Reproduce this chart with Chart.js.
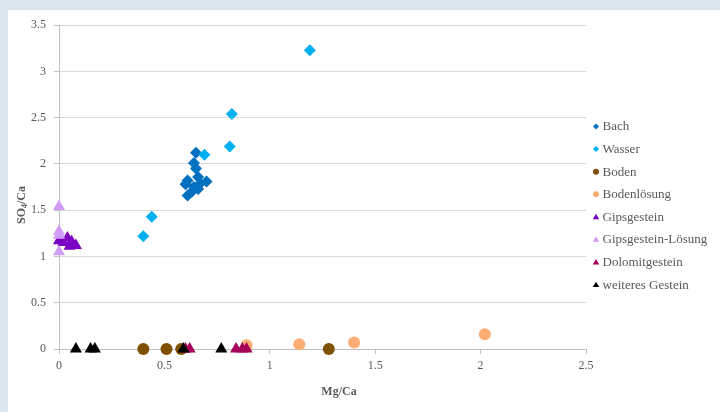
<!DOCTYPE html>
<html>
<head>
<meta charset="utf-8">
<script src="https://cdn.jsdelivr.net/npm/chart.js@4.4.1/dist/chart.umd.min.js"></script>
<style>
  html, body { margin: 0; padding: 0; width: 720px; height: 412px; overflow: hidden; background: #dde7f0; }
  #panel { position: absolute; left: 8px; top: 10px; width: 712px; height: 402px; background: #ffffff; }
  canvas { display: block; }
</style>
</head>
<body>
<div id="panel"><canvas id="chart" width="712" height="402"></canvas></div>
<script>
// Sample groups (legend order)
const seriesNames = ['Bach', 'Wasser', 'Boden', 'Bodenlösung', 'Gipsgestein',
                     'Gipsgestein-Lösung', 'Dolomitgestein', 'weiteres Gestein'];

// Mg/Ca (x) and SO4/Ca (y) per group
const bachMg   = [0.65, 0.64, 0.65, 0.66, 0.61, 0.60, 0.70, 0.67, 0.64, 0.66, 0.63, 0.61];
const bachSo4  = [2.12, 2.01, 1.95, 1.86, 1.82, 1.78, 1.81, 1.79, 1.75, 1.73, 1.70, 1.66];
const wasserMg  = [1.19, 0.82, 0.81, 0.69, 0.44, 0.40];
const wasserSo4 = [3.23, 2.54, 2.19, 2.10, 1.43, 1.22];
const bodenMg  = [0.40, 0.51, 0.58, 1.28];
const bodenSo4 = [0, 0, 0, 0];
const bodenLsgMg  = [0.89, 1.14, 1.40, 2.02];
const bodenLsgSo4 = [0.04, 0.05, 0.07, 0.16];
const gipsMg  = [0, 0.02, 0.04, 0.06, 0.05, 0.08];
const gipsSo4 = [1.17, 1.15, 1.20, 1.16, 1.11, 1.12];
const gipsLsgMg  = [0, 0, 0, 0];
const gipsLsgSo4 = [1.54, 1.27, 1.23, 1.05];
const dolomitMg  = [0.60, 0.62, 0.84, 0.87, 0.89];
const dolomitSo4 = [0, 0, 0, 0, 0];
const weitereMg  = [0.08, 0.15, 0.17, 0.59, 0.77];
const weitereSo4 = [0, 0, 0, 0, 0];

// Axis tick labels
const xTickLabels = ['0', '0.5', '1', '1.5', '2', '2.5'];
const yTickLabels = ['0', '0.5', '1', '1.5', '2', '2.5', '3', '3.5'];

const seriesX = [bachMg, wasserMg, bodenMg, bodenLsgMg, gipsMg, gipsLsgMg, dolomitMg, weitereMg];
const seriesY = [bachSo4, wasserSo4, bodenSo4, bodenLsgSo4, gipsSo4, gipsLsgSo4, dolomitSo4, weitereSo4];

// Marker styles
const colors = ['#0070c0', '#00b0f0', '#7f5000', '#fbad74', '#7a00c2', '#d19cf7', '#a6005a', '#000000'];
const shapes = ['rectRot', 'rectRot', 'circle', 'circle', 'triangle', 'triangle', 'triangle', 'triangle'];
const radii  = [6, 6, 6, 6, 7, 7, 7, 7];

const FONT = '"Liberation Serif", "Times New Roman", serif';
const TEXT = '#595959';

const datasets = seriesNames.map((name, i) => ({
  label: name,
  data: seriesX[i].map((x, k) => ({ x: x, y: seriesY[i][k] })),
  backgroundColor: colors[i],
  borderColor: colors[i],
  pointStyle: shapes[i],
  pointRadius: radii[i],
  pointBorderWidth: 0,
  clip: false,
  order: seriesNames.length - i   // later groups drawn on top
}));

function drawMarker(ctx, shape, x, y, r) {
  ctx.beginPath();
  if (shape === 'circle') {
    ctx.arc(x, y, r, 0, Math.PI * 2);
  } else if (shape === 'rectRot') {
    ctx.moveTo(x, y - r); ctx.lineTo(x + r, y); ctx.lineTo(x, y + r); ctx.lineTo(x - r, y);
    ctx.closePath();
  } else {
    const h = r * 1.5;
    ctx.moveTo(x, y - h / 2 - r * 0.1); ctx.lineTo(x + r * 0.9, y + h / 2 - r * 0.1); ctx.lineTo(x - r * 0.9, y + h / 2 - r * 0.1);
    ctx.closePath();
  }
  ctx.fill();
}

// Side legend and axis titles
const annotations = {
  id: 'annotations',
  afterDraw(chart) {
    const ctx = chart.ctx;
    ctx.save();
    // legend
    ctx.font = '13px ' + FONT;
    ctx.textBaseline = 'middle';
    ctx.textAlign = 'left';
    seriesNames.forEach((name, i) => {
      const y = 116.5 + i * 22.6;
      ctx.fillStyle = colors[i];
      drawMarker(ctx, shapes[i], 588, y, shapes[i] === 'triangle' ? 3.6 : 3);
      ctx.fillStyle = TEXT;
      ctx.fillText(name, 594.5, y + 0.5);
    });
    // x title
    ctx.font = 'bold 12px ' + FONT;
    ctx.textAlign = 'center';
    ctx.fillText('Mg/Ca', 331, 382);
    // y title with subscript
    ctx.translate(14, 195);
    ctx.rotate(-Math.PI / 2);
    const big = 'bold 12px ' + FONT, small = 'bold 8px ' + FONT;
    ctx.font = big; const wSO = ctx.measureText('SO').width; const wCa = ctx.measureText('/Ca').width;
    ctx.font = small; const w4 = ctx.measureText('4').width;
    const total = wSO + w4 + wCa;
    let x0 = -total / 2;
    ctx.textAlign = 'left';
    ctx.textBaseline = 'middle';
    ctx.font = big; ctx.fillText('SO', x0, 0); x0 += wSO;
    ctx.font = small; ctx.fillText('4', x0, 3); x0 += w4;
    ctx.font = big; ctx.fillText('/Ca', x0, 0);
    ctx.restore();
  }
};

new Chart(document.getElementById('chart'), {
  type: 'scatter',
  data: { datasets: datasets },
  options: {
    responsive: false,
    devicePixelRatio: 1,
    animation: false,
    events: [],
    layout: { padding: { left: 0, right: 134, top: 15, bottom: 0 } },
    plugins: { legend: { display: false }, tooltip: { enabled: false } },
    scales: {
      x: {
        type: 'linear', min: 0, max: 2.5,
        ticks: { stepSize: 0.5, padding: 5, color: TEXT, font: { family: FONT, size: 12 },
                 callback: (v, i) => xTickLabels[i] },
        grid: { drawOnChartArea: false, drawTicks: true, tickLength: 5, tickColor: '#bfbfbf' },
        border: { color: '#bfbfbf', width: 1 },
        afterFit: (s) => { s.height = 63; }
      },
      y: {
        type: 'linear', min: 0, max: 3.5,
        ticks: { stepSize: 0.5, padding: 8, color: TEXT, font: { family: FONT, size: 12 },
                 callback: (v, i) => yTickLabels[i] },
        grid: { color: '#d9d9d9', lineWidth: 1, tickLength: 5, tickColor: '#bfbfbf' },
        border: { color: '#bfbfbf', width: 1 },
        afterFit: (s) => { s.width = 51; }
      }
    }
  },
  plugins: [annotations]
});
</script>
</body>
</html>
